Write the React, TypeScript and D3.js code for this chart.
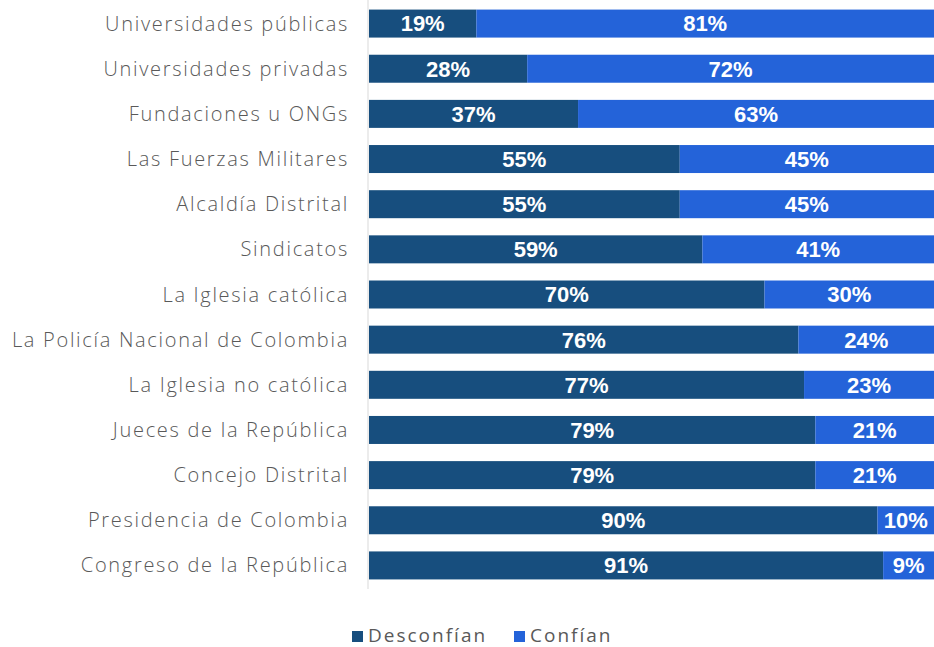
import { useEffect, useRef } from "react";
import * as d3 from "d3";

const categories = [
  "Universidades públicas",
  "Universidades privadas",
  "Fundaciones u ONGs",
  "Las Fuerzas Militares",
  "Alcaldía Distrital",
  "Sindicatos",
  "La Iglesia católica",
  "La Policía Nacional de Colombia",
  "La Iglesia no católica",
  "Jueces de la República",
  "Concejo Distrital",
  "Presidencia de Colombia",
  "Congreso de la República",
];
const desconfian = [19, 28, 37, 55, 55, 59, 70, 76, 77, 79, 79, 90, 91];
const confian = [81, 72, 63, 45, 45, 41, 30, 24, 23, 21, 21, 10, 9];
const seriesNames = ["Desconfían", "Confían"];
const colors = ["#174e7e", "#2463d9"];

const App = () => {
  const ref = useRef<SVGSVGElement>(null);

  useEffect(() => {
    const w = 934;
    const h = 647;
    const svg = d3.select(ref.current).attr("width", w).attr("height", h);
    svg.selectAll("*").remove();

    const left = 369;
    const x = d3.scaleLinear().domain([0, 100]).range([left, 934]);
    const y = d3.scaleBand().domain(categories).range([1, 588]).paddingInner(0.38).paddingOuter(0.19);

    const rows = categories.map((c, i) => ({ c, d: desconfian[i], k: confian[i] }));

    // category labels
    svg
      .append("g")
      .selectAll("text")
      .data(rows)
      .join("text")
      .attr("x", left - 20)
      .attr("y", (r) => y(r.c)! + y.bandwidth() / 2)
      .attr("dy", "0.35em")
      .attr("text-anchor", "end")
      .attr("font-family", "'Open Sans', sans-serif")
      .attr("font-weight", 300)
      .attr("font-size", 20)
      .attr("letter-spacing", 1.7)
      .attr("fill", "#595959")
      .text((r) => r.c);

    const stacks = [
      { vals: rows.map((r) => [0, r.d]), color: colors[0] },
      { vals: rows.map((r) => [r.d, r.d + r.k]), color: colors[1] },
    ];

    stacks.forEach((s) => {
      const g = svg.append("g");
      g.selectAll("rect")
        .data(s.vals)
        .join("rect")
        .attr("x", (v) => x(v[0]))
        .attr("y", (_, i) => y(categories[i])!)
        .attr("width", (v) => x(v[1]) - x(v[0]))
        .attr("height", y.bandwidth())
        .attr("fill", s.color);
      g.selectAll("text")
        .data(s.vals)
        .join("text")
        .attr("x", (v) => (x(v[0]) + x(v[1])) / 2)
        .attr("y", (_, i) => y(categories[i])! + y.bandwidth() / 2)
        .attr("dy", "0.36em")
        .attr("text-anchor", "middle")
        .attr("font-family", "Liberation Sans, Arial, sans-serif")
        .attr("font-weight", "bold")
        .attr("font-size", 22)
        .attr("fill", "#fff")
        .text((v) => `${v[1] - v[0]}%`);
    });

    // axis line
    svg
      .append("line")
      .attr("x1", left - 1)
      .attr("x2", left - 1)
      .attr("y1", 0)
      .attr("y2", 589)
      .attr("stroke", "#d9d9d9")
      .attr("stroke-width", 1);

    // legend
    const legend = svg.append("g").attr("transform", "translate(352,635)");
    const offsets = [0, 162];
    seriesNames.forEach((name, i) => {
      legend
        .append("rect")
        .attr("x", offsets[i])
        .attr("y", -4)
        .attr("width", 11)
        .attr("height", 11)
        .attr("fill", colors[i]);
      legend
        .append("text")
        .attr("x", offsets[i] + 16)
        .attr("y", 0)
        .attr("dy", "0.35em")
        .attr("font-family", "'Open Sans', sans-serif")
        .attr("font-size", 19)
        .attr("letter-spacing", 2)
        .attr("fill", "#595959")
        .text(name);
    });
  }, []);

  return <svg ref={ref} style={{ position: "absolute", left: 0, top: 0 }}></svg>;
};

export default App;
